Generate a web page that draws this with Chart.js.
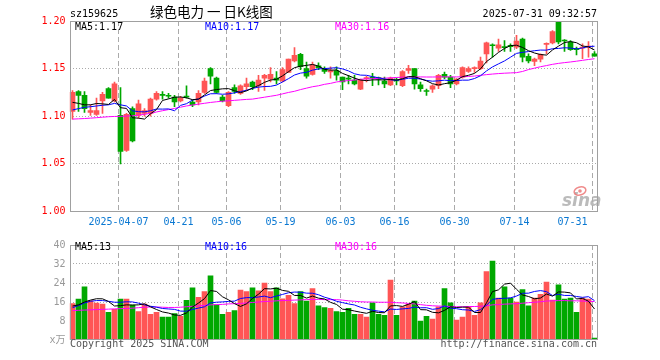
<!DOCTYPE html>
<html>
<head>
<meta charset="utf-8">
<script src="https://cdn.jsdelivr.net/npm/chart.js@4.4.1/dist/chart.umd.min.js"></script>
<style>
  body { margin: 0; background: #fff; }
  #wrap { position: relative; width: 660px; height: 360px; }
  canvas { position: absolute; left: 0; }
  #price { top: 0; }
  #volume { top: 235px; }
</style>
</head>
<body>
<div id="wrap">
  <canvas id="price" width="660" height="232"></canvas>
  <canvas id="volume" width="660" height="125"></canvas>
</div>
<script>
// trading days shown on the chart
const dates = ['2025-03-25','2025-03-26','2025-03-27','2025-03-28','2025-03-31','2025-04-01','2025-04-02','2025-04-03',
  '2025-04-07','2025-04-08','2025-04-09','2025-04-10','2025-04-11','2025-04-14','2025-04-15','2025-04-16','2025-04-17','2025-04-18',
  '2025-04-21','2025-04-22','2025-04-23','2025-04-24','2025-04-25','2025-04-28','2025-04-29','2025-04-30',
  '2025-05-06','2025-05-07','2025-05-08','2025-05-09','2025-05-12','2025-05-13','2025-05-14','2025-05-15','2025-05-16',
  '2025-05-19','2025-05-20','2025-05-21','2025-05-22','2025-05-23','2025-05-26','2025-05-27','2025-05-28','2025-05-29','2025-05-30',
  '2025-06-03','2025-06-04','2025-06-05','2025-06-06','2025-06-09','2025-06-10','2025-06-11','2025-06-12','2025-06-13',
  '2025-06-16','2025-06-17','2025-06-18','2025-06-19','2025-06-20','2025-06-23','2025-06-24','2025-06-25','2025-06-26','2025-06-27',
  '2025-06-30','2025-07-01','2025-07-02','2025-07-03','2025-07-04','2025-07-07','2025-07-08','2025-07-09','2025-07-10','2025-07-11',
  '2025-07-14','2025-07-15','2025-07-16','2025-07-17','2025-07-18','2025-07-21','2025-07-22','2025-07-23','2025-07-24','2025-07-25',
  '2025-07-28','2025-07-29','2025-07-30','2025-07-31'];

const opens = [1.105,1.126,1.122,1.104,1.102,1.116,1.129,1.116,1.101,1.064,
  1.108,1.101,1.103,1.103,1.118,1.1225,1.122,1.120,1.116,1.1205,
  1.115,1.115,1.125,1.150,1.140,1.120,1.111,1.130,1.124,1.131,
  1.136,1.132,1.140,1.139,1.140,1.137,1.146,1.158,1.165,1.150,
  1.144,1.153,1.150,1.1465,1.148,1.141,1.1395,1.138,1.1285,1.1395,
  1.1405,1.1405,1.137,1.133,1.1375,1.132,1.148,1.150,1.133,1.1265,
  1.1285,1.132,1.144,1.141,1.134,1.141,1.147,1.150,1.150,1.1655,
  1.175,1.1715,1.1725,1.1745,1.1725,1.181,1.163,1.1575,1.160,1.1755,
  1.177,1.199,1.1795,1.178,1.1705,1.1715,1.1725,1.1655];
const highs = [1.127,1.127,1.126,1.112,1.119,1.125,1.130,1.136,1.130,1.103,
  1.110,1.117,1.108,1.119,1.126,1.126,1.124,1.122,1.121,1.132,
  1.117,1.127,1.140,1.151,1.141,1.122,1.126,1.133,1.133,1.140,
  1.137,1.143,1.144,1.151,1.147,1.151,1.160,1.172,1.166,1.157,
  1.157,1.156,1.152,1.152,1.152,1.141,1.143,1.143,1.139,1.142,
  1.145,1.141,1.141,1.141,1.140,1.148,1.1535,1.150,1.136,1.1285,
  1.133,1.144,1.1465,1.143,1.1395,1.152,1.152,1.152,1.162,1.178,
  1.176,1.181,1.1795,1.176,1.185,1.182,1.1655,1.161,1.1655,1.177,
  1.190,1.200,1.1805,1.1795,1.1725,1.176,1.1785,1.168];
const lows = [1.097,1.105,1.104,1.101,1.101,1.103,1.119,1.115,1.050,1.063,
  1.073,1.098,1.100,1.100,1.117,1.118,1.119,1.110,1.115,1.119,
  1.110,1.112,1.124,1.134,1.124,1.115,1.110,1.124,1.123,1.127,
  1.128,1.126,1.127,1.136,1.134,1.136,1.146,1.157,1.149,1.140,
  1.143,1.149,1.145,1.140,1.138,1.128,1.134,1.133,1.128,1.136,
  1.132,1.133,1.130,1.132,1.133,1.131,1.145,1.1285,1.126,1.122,
  1.125,1.129,1.1395,1.130,1.133,1.140,1.146,1.146,1.149,1.156,
  1.162,1.168,1.168,1.168,1.171,1.157,1.156,1.153,1.157,1.1655,
  1.176,1.176,1.168,1.169,1.1645,1.1605,1.162,1.163];
const closes = [1.125,1.122,1.108,1.106,1.106,1.123,1.119,1.134,1.063,1.102,
  1.074,1.113,1.106,1.118,1.124,1.122,1.121,1.115,1.119,1.120,
  1.112,1.124,1.137,1.142,1.125,1.116,1.125,1.126,1.132,1.134,
  1.131,1.138,1.143,1.144,1.138,1.149,1.160,1.164,1.152,1.142,
  1.154,1.151,1.147,1.148,1.143,1.136,1.139,1.134,1.138,1.140,
  1.140,1.139,1.134,1.140,1.137,1.147,1.150,1.134,1.129,1.126,
  1.132,1.143,1.141,1.134,1.139,1.151,1.150,1.151,1.158,1.177,
  1.174,1.175,1.172,1.173,1.179,1.162,1.158,1.160,1.165,1.176,
  1.189,1.178,1.179,1.170,1.170,1.172,1.173,1.163];

const ma5 = [1.1146,1.1135,1.112,1.112,1.1134,1.113,1.1124,1.1176,1.109,1.1082,
  1.0984,1.098,1.097,1.1026,1.107,1.1166,1.1182,1.12,1.1202,1.1194,
  1.1174,1.118,1.1224,1.127,1.128,1.1288,1.129,1.1268,1.1248,1.1266,
  1.1296,1.1322,1.1356,1.138,1.1388,1.1424,1.1468,1.151,1.1526,1.1534,
  1.1544,1.1526,1.1492,1.1484,1.1486,1.145,1.1426,1.14,1.138,1.1374,
  1.1382,1.1382,1.1382,1.1386,1.138,1.1394,1.1416,1.1416,1.1394,1.1372,
  1.1342,1.1328,1.1342,1.1352,1.1378,1.1416,1.143,1.145,1.1498,1.1574,
  1.162,1.167,1.1712,1.1742,1.1746,1.1722,1.1688,1.1664,1.1648,1.1642,
  1.1696,1.1736,1.1774,1.1784,1.1772,1.1738,1.1728,1.1696];
const ma10 = [1.1066,1.108,1.1094,1.110,1.1108,1.1115,1.112,1.1135,1.112,1.1108,
  1.1057,1.1048,1.1046,1.1058,1.1076,1.1075,1.1077,1.1058,1.1114,1.1132,
  1.117,1.1181,1.1212,1.1236,1.1237,1.1231,1.1235,1.1246,1.1259,1.1273,
  1.1292,1.1306,1.1312,1.1314,1.1327,1.136,1.1395,1.1433,1.1453,1.1461,
  1.1484,1.1497,1.1501,1.1505,1.151,1.1497,1.1476,1.1446,1.1432,1.143,
  1.1416,1.1404,1.1391,1.1383,1.1377,1.1388,1.1399,1.1399,1.139,1.1376,
  1.1368,1.1372,1.1379,1.1373,1.1375,1.1379,1.1379,1.1396,1.1425,1.1476,
  1.1518,1.155,1.1581,1.162,1.166,1.1671,1.1679,1.1688,1.1695,1.1694,
  1.1709,1.1712,1.1719,1.1716,1.1707,1.1717,1.1732,1.1735];
const ma30 = [1.097,1.0973,1.0976,1.098,1.0985,1.099,1.0995,1.0998,1.0999,1.1002,
  1.1005,1.1012,1.102,1.103,1.1045,1.1058,1.107,1.1082,1.1095,1.1108,
  1.1118,1.1127,1.1136,1.1145,1.1152,1.1158,1.1162,1.1167,1.1172,1.1177,
  1.118,1.119,1.12,1.121,1.122,1.1235,1.125,1.1262,1.128,1.1295,
  1.131,1.132,1.1335,1.1345,1.136,1.1368,1.1375,1.138,1.1388,1.1392,
  1.1395,1.1397,1.14,1.1403,1.1407,1.141,1.1413,1.1413,1.1413,1.1412,
  1.1412,1.1413,1.1414,1.1413,1.1413,1.1414,1.1418,1.1422,1.143,1.1437,
  1.1443,1.1448,1.1452,1.1455,1.1458,1.147,1.149,1.1505,1.152,1.1532,
  1.1545,1.1555,1.1563,1.157,1.1578,1.1587,1.1596,1.1604];

// volume in 万
const volumes = [15.3,17.2,22.4,16.5,15.5,15.1,11.6,12.9,17.2,17.2,
  14.7,12,15.1,10.8,11.6,9.6,9.6,11.1,10,16.7,
  22,18,20.4,27,14.8,10.8,11.6,12.4,21,20.4,
  22,20.7,24,20.4,22,17.3,18.8,15.3,20.4,16.4,
  21.6,14.4,13.6,13.3,12,11.6,13.3,10.8,10.8,9.7,
  15.7,10.8,10.4,25.2,10.4,14,15.1,16.4,8,10,
  8.8,14,21.6,15.6,8.4,9.6,13.9,10.4,15.6,28.8,
  33.2,17.6,22.4,17.6,16,21.2,14.4,17.6,19.2,24.4,
  16.8,23.2,17.2,17.6,11.6,17.6,17.2,0.8];
const vma5 = [14.3,14.8,16.0,16.8,17.38,17.34,16.22,14.32,14.46,14.8,
  14.72,14.8,15.24,13.96,12.84,11.82,11.34,10.54,10.38,11.4,
  13.88,15.56,17.42,20.82,20.44,18.2,16.92,15.32,14.12,15.24,
  17.48,19.3,21.62,21.5,21.82,20.88,20.5,18.76,18.76,17.64,
  18.5,17.62,17.28,15.86,14.98,12.98,12.76,12.2,11.7,11.24,
  12.06,11.56,11.48,14.36,14.5,14.16,15.02,16.22,12.78,12.7,
  11.66,11.44,12.48,14.0,13.68,13.84,13.82,11.58,11.58,15.66,
  20.38,21.12,23.52,23.92,21.36,18.96,18.32,17.36,17.68,19.36,
  18.48,20.24,20.16,19.84,17.28,17.52,16.32,13.04];
const vma10 = [13.6,14.5,15.6,16.3,16.6,16.6,16.3,15.9,15.9,16.09,
  16.03,15.51,14.78,14.21,13.82,13.27,13.07,12.89,12.17,12.12,
  12.85,13.45,13.98,15.6,15.92,16.04,16.24,16.37,17.47,17.84,
  17.84,18.11,18.47,17.81,18.53,19.18,19.9,20.19,20.13,19.73,
  19.69,19.06,18.02,17.31,16.31,15.74,15.19,14.74,13.78,13.11,
  12.52,12.16,11.84,13.03,12.87,13.11,13.29,13.85,13.57,13.6,
  12.91,13.23,14.35,13.39,13.19,12.75,12.63,12.03,12.79,14.67,
  17.11,17.47,17.55,17.75,18.51,19.67,19.72,20.44,20.8,20.36,
  18.72,19.28,18.76,18.76,18.32,17.96,18.24,16.56];
const vma30 = [12.4,12.5,12.6,12.7,12.8,12.9,13.0,13.1,13.2,13.3,
  13.4,13.6,13.8,13.9,13.9,13.8,13.7,13.7,13.8,14.0,
  14.2,14.4,14.6,14.8,14.9,15.0,15.2,15.3,15.4,15.6,
  15.8,16.0,16.2,16.3,16.5,16.6,16.7,16.8,16.9,17.0,
  17.1,17.1,17.0,17.0,17.0,16.8,16.5,16.3,16.1,16.0,
  16.0,15.9,15.9,15.9,15.7,15.6,15.4,15.2,14.9,14.6,
  14.4,14.3,14.2,14.1,14.0,14.0,14.1,14.1,14.2,14.4,
  14.8,14.9,15.1,15.2,15.3,15.5,15.7,15.9,16.1,16.4,
  16.5,16.6,16.6,16.5,16.5,16.4,16.3,16.2];

// date labels under the price panel
const tickDates = ['2025-04-07','2025-04-21','2025-05-06','2025-05-19','2025-06-03','2025-06-16','2025-06-30','2025-07-14','2025-07-31'];
const tickText = ['2025-04-07','04-21','05-06','05-19','06-03','06-16','06-30','07-14','07-31'];

const RED = '#ff5555', GREEN = '#00a800';
const MONO = '"DejaVu Sans Mono", monospace';
const candleColors = closes.map((c, i) => c >= opens[i] ? RED : GREEN);
const bodies = opens.map((o, i) => [o, closes[i]]);
const wicks = lows.map((l, i) => [l, highs[i]]);

function near(a, b) { return Math.abs(a - b) < 1e-6; }

// dashed vertical lines at the labelled dates (left edge of the day)
function drawDateGrid(chart) {
  const c = chart.ctx, a = chart.chartArea, xs = chart.scales.x;
  const half = (xs.getPixelForValue(1) - xs.getPixelForValue(0)) / 2;
  c.save();
  c.strokeStyle = '#aaaaaa';
  c.lineWidth = 1;
  c.setLineDash([5, 3]);
  tickDates.forEach(d => {
    const x = Math.round(xs.getPixelForValue(dates.indexOf(d)) - half) + 0.5;
    c.beginPath();
    c.moveTo(x, a.top);
    c.lineTo(x, a.bottom);
    c.stroke();
  });
  c.restore();
}

function drawFrame(chart) {
  const c = chart.ctx, a = chart.chartArea;
  const l = Math.round(a.left), t = Math.round(a.top), r = Math.round(a.right), b = Math.round(a.bottom);
  c.save();
  c.strokeStyle = '#a0a0a0';
  c.lineWidth = 1;
  c.setLineDash([]);
  c.strokeRect(l + 0.5, t + 0.5, r - l - 1, b - t - 1);
  c.restore();
}

const priceDecor = {
  id: 'priceDecor',
  beforeDatasetsDraw(chart) { drawDateGrid(chart); },
  afterDraw(chart) {
    const c = chart.ctx, a = chart.chartArea, xs = chart.scales.x;
    const half = (xs.getPixelForValue(1) - xs.getPixelForValue(0)) / 2;
    c.save();
    // sina watermark
    c.font = 'italic bold 17px "DejaVu Sans"';
    c.fillStyle = 'rgba(175,175,175,0.85)';
    c.fillText('sina', 562, 206);
    c.strokeStyle = 'rgba(235,110,110,0.8)';
    c.lineWidth = 1.5;
    c.beginPath();
    c.ellipse(580, 191, 6, 4, -0.3, 0, Math.PI * 2);
    c.stroke();
    c.fillStyle = 'rgba(235,110,110,0.8)';
    c.beginPath();
    c.arc(580, 191, 1.8, 0, Math.PI * 2);
    c.fill();
    c.restore();

    drawFrame(chart);

    c.save();
    c.textBaseline = 'alphabetic';
    c.font = '10px ' + MONO;
    c.fillStyle = '#000';
    c.fillText('sz159625', 70, 17);
    c.textAlign = 'right';
    c.fillText('2025-07-31 09:32:57', 597, 17);
    c.textAlign = 'left';
    c.font = '13.5px "Noto Sans CJK SC"';
    c.fillText('绿色电力 一 日K线图', 150, 17);

    c.font = '10px ' + MONO;
    c.fillStyle = '#000000';
    c.fillText('MA5:1.17', 75, 30);
    c.fillStyle = '#0000ff';
    c.fillText('MA10:1.17', 205, 30);
    c.fillStyle = '#ff00ff';
    c.fillText('MA30:1.16', 335, 30);

    // x labels
    c.fillStyle = '#0a78d2';
    tickDates.forEach((d, k) => {
      const x = Math.round(xs.getPixelForValue(dates.indexOf(d)) - half) + 0.5;
      const w = c.measureText(tickText[k]).width;
      const left = Math.min(x - w / 2, a.right - 10 - w);
      c.fillText(tickText[k], left, 225);
    });
    c.restore();
  }
};

const volDecor = {
  id: 'volDecor',
  beforeDatasetsDraw(chart) { drawDateGrid(chart); },
  afterDraw(chart) {
    const c = chart.ctx;
    drawFrame(chart);
    c.save();
    c.font = '10px ' + MONO;
    c.fillStyle = '#000000';
    c.fillText('MA5:13', 75, 15);
    c.fillStyle = '#0000ff';
    c.fillText('MA10:16', 205, 15);
    c.fillStyle = '#ff00ff';
    c.fillText('MA30:16', 335, 15);
    c.fillStyle = '#555555';
    c.fillText('Copyright 2025 SINA.COM', 70, 112);
    c.textAlign = 'right';
    c.fillText('http://finance.sina.com.cn', 597, 112);
    c.restore();
  }
};

function lineSet(data, color) {
  return { type: 'line', data: data, borderColor: color, borderWidth: 1, pointRadius: 0, tension: 0, order: 0 };
}

const baseX = {
  offset: true,
  ticks: { display: false, autoSkip: false },
  grid: { display: false },
  border: { display: false },
  afterFit: s => { s.height = 20.5; }
};

new Chart(document.getElementById('price'), {
  data: {
    labels: dates,
    datasets: [
      lineSet(ma5, '#000000'),
      lineSet(ma10, '#0000ff'),
      lineSet(ma30, '#ff00ff'),
      { type: 'bar', data: bodies, backgroundColor: candleColors, barThickness: 5, grouped: false, minBarLength: 1, order: 1 },
      { type: 'bar', data: wicks, backgroundColor: candleColors, barThickness: 1, grouped: false, order: 2 }
    ]
  },
  options: {
    responsive: false,
    animation: false,
    events: [],
    layout: { padding: { top: 21, right: 62.5, left: 0, bottom: 0 } },
    plugins: { legend: { display: false }, tooltip: { enabled: false } },
    scales: {
      x: baseX,
      y: {
        min: 1.0,
        max: 1.2,
        ticks: {
          stepSize: 0.05,
          color: '#ff0000',
          padding: 4,
          font: { family: MONO, size: 10 },
          callback: v => v.toFixed(2)
        },
        grid: {
          drawTicks: false,
          color: ctx => (ctx.tick && (near(ctx.tick.value, 1) || near(ctx.tick.value, 1.2))) ? 'rgba(0,0,0,0)' : '#aaaaaa'
        },
        border: { display: false, dash: [1, 2] },
        afterFit: s => { s.width = 69.5; }
      }
    }
  },
  plugins: [priceDecor]
});

new Chart(document.getElementById('volume'), {
  data: {
    labels: dates,
    datasets: [
      lineSet(vma5, '#000000'),
      lineSet(vma10, '#0000ff'),
      lineSet(vma30, '#ff00ff'),
      { type: 'bar', data: volumes, backgroundColor: candleColors, barThickness: 5, grouped: false, order: 1 }
    ]
  },
  options: {
    responsive: false,
    animation: false,
    events: [],
    layout: { padding: { top: 5, right: 62.5, left: 0, bottom: 0 } },
    plugins: { legend: { display: false }, tooltip: { enabled: false } },
    scales: {
      x: Object.assign({}, baseX, { afterFit: s => { s.height = 20; } }),
      y: {
        min: 0,
        max: 40,
        ticks: {
          stepSize: 8,
          color: '#999999',
          padding: 4,
          font: { family: MONO + ', "Noto Sans CJK SC"', size: 10 },
          callback: v => v === 0 ? 'x万' : v
        },
        grid: {
          drawTicks: false,
          color: ctx => (ctx.tick && (ctx.tick.value === 0 || ctx.tick.value === 40)) ? 'rgba(0,0,0,0)' : '#aaaaaa'
        },
        border: { display: false, dash: [1, 2] },
        afterFit: s => { s.width = 69.5; }
      }
    }
  },
  plugins: [volDecor]
});
</script>
</body>
</html>
